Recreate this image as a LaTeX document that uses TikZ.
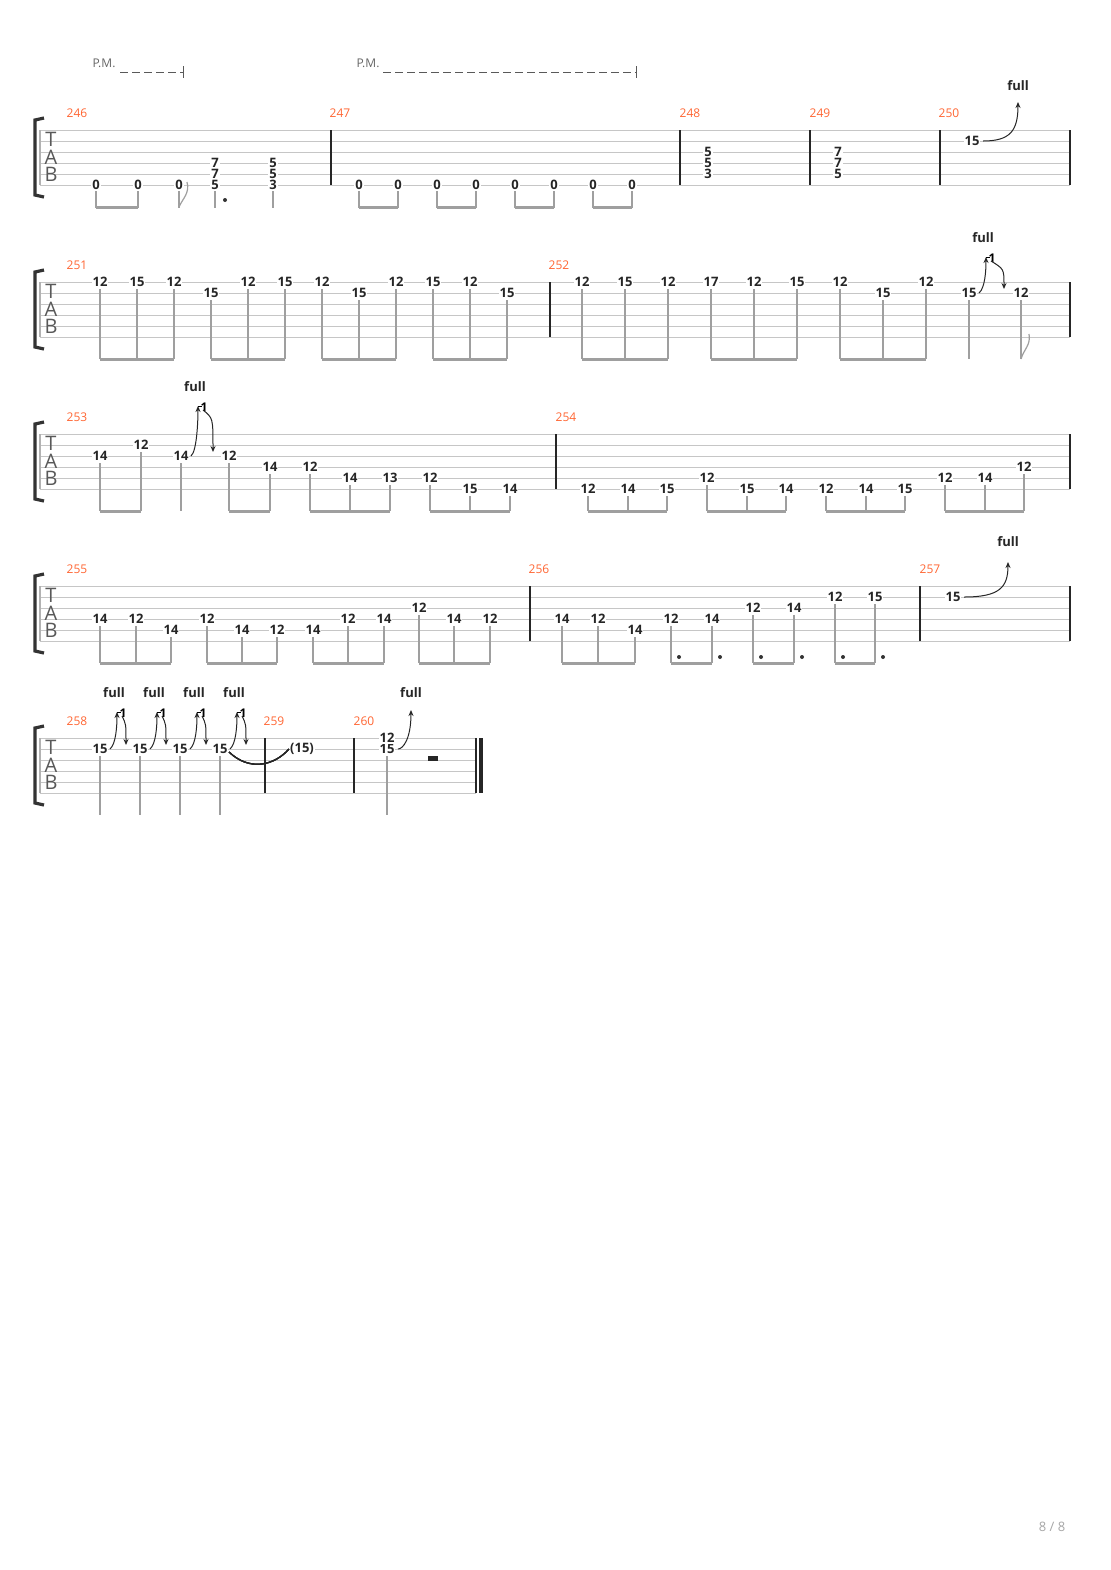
\documentclass[tikz,border=0pt]{standalone}
\usepackage{fontspec}
\setmainfont{Open Sans}
\usetikzlibrary{arrows.meta}

\definecolor{barnum}{HTML}{FF6633}
\tikzset{
  strg/.style={draw=gray!45, line width=0.5pt},
  bar/.style={draw=black!85, line width=0.6pt},
  fret/.style={fill=white, inner sep=0.4pt, font=\fontsize{6.5}{7}\selectfont\bfseries, text=black!85},
  stem/.style={draw=gray!75, line width=0.6pt},
  beam/.style={draw=gray!75, line width=1.5pt},
  mnum/.style={font=\fontsize{6}{7}\selectfont, text=barnum},
  full/.style={font=\fontsize{6.5}{7}\selectfont\bfseries, text=black!85},
  bendarr/.style={draw=black!85, line width=0.5pt, -{Stealth[length=3pt,width=2.5pt]}},
  pm/.style={font=\fontsize{6}{7}\selectfont, text=gray!80!black},
  tabl/.style={font=\fontsize{10}{10}\selectfont, text=gray!70!black}
}
\newcommand\tabsys[2]{%
  \foreach \k in {0,...,5} \draw[strg] (40,{#1+11*\k}) -- (#2,{#1+11*\k});
  \draw[line width=1.6pt, black!80] (44,#1-12) -- (35,#1-10) -- (35,#1+65) -- (44,#1+67);
  \draw[bar, gray!60] (40,#1) -- (40,#1+55);
  \node[tabl] at (51,#1+9) {T};
  \node[tabl] at (51,#1+27) {A};
  \node[tabl] at (51,#1+44) {B};}
\newcommand\bendup[5]{% x, y, peak x, peak y, label y
  \draw[bendarr] (#1+11,#2) .. controls (#3-8,#2) and (#3,#2-10) .. (#3,#4);
  \node[full] at (#3,#5) {full};}
\newcommand\bendrel[4]{% x, y, peak y, release x
  \draw[bendarr] (#1+10,#2) .. controls (#1+16,#2-5) and (#1+17,#3+14) .. (#1+17,#3);
  \draw[line width=0.5pt] (#1+17,#3) -- (#1+21,#3);
  \node[font=\fontsize{6}{6}\selectfont\bfseries, inner sep=0pt] at (#1+23,#3+1) {1};
  \draw[bendarr] (#1+22,#3+4) .. controls (#4,#3+12) .. (#4,#2-4);
  \node[full] at (#1+14,#3-19) {full};}

\begin{document}
\begin{tikzpicture}[x=0.5pt, y=-0.5pt]
  \useasboundingbox[fill=white] (0,0) rectangle (1110,1570);

  % system 1
  \def\Y{130}
  \tabsys{\Y}{1070}
  \foreach \x in {331,680,810,940,1070} \draw[bar] (\x,\Y) -- (\x,\Y+55);
  \foreach \x/\n in {77/246,340/247,690/248,820/249,949/250} \node[mnum] at (\x,\Y-17) {\n};
  \node[pm] at (104,63) {P.M.};
  \draw[gray!70!black, dash pattern=on 4pt off 2pt] (120,72) -- (183,72);
  \draw[gray!70!black] (183,66) -- (183,78);
  \node[pm] at (368,63) {P.M.};
  \draw[gray!70!black, dash pattern=on 4pt off 2pt] (383,72) -- (636,72);
  \draw[gray!70!black] (636,66) -- (636,78);
  \foreach \x/\s/\f in {96/6/0,138/6/0,179/6/0,215/4/7,215/5/7,215/6/5,273/4/5,273/5/5,273/6/3,
      359/6/0,398/6/0,437/6/0,476/6/0,515/6/0,554/6/0,593/6/0,632/6/0,
      708/3/5,708/4/5,708/5/3,838/3/7,838/4/7,838/5/5,972/2/15}
    \node[fret] at (\x,{\Y+11*(\s-1)}) {\f};
  \foreach \x in {96,138,179,215,273,359,398,437,476,515,554,593,632}
    \draw[stem] (\x,\Y+61) -- (\x,\Y+78);
  \foreach \a/\b in {96/138,359/398,437/476,515/554,593/632}
    \draw[beam] (\a,\Y+77) -- (\b,\Y+77);
  \draw[stem] (179,\Y+77) .. controls (183,\Y+68) and (190,\Y+63) .. (187,\Y+52);
  \fill[black!80] (225,\Y+70) circle (1pt);
  \bendup{972}{141}{1018}{102}{86}

  % system 2
  \def\Y{282}
  \tabsys{\Y}{1070}
  \foreach \x in {550,1070} \draw[bar] (\x,\Y) -- (\x,\Y+55);
  \foreach \x/\n in {77/251,559/252} \node[mnum] at (\x,\Y-17) {\n};
  \foreach \x/\s/\f in {100/1/12,137/1/15,174/1/12,211/2/15,248/1/12,285/1/15,322/1/12,359/2/15,
      396/1/12,433/1/15,470/1/12,507/2/15,582/1/12,625/1/15,668/1/12,711/1/17,754/1/12,
      797/1/15,840/1/12,883/2/15,926/1/12,969/2/15,1021/2/12} {
    \node[fret] at (\x,{\Y+11*(\s-1)}) {\f};
    \draw[stem] (\x,{\Y+11*(\s-1)+7}) -- (\x,\Y+77);}
  \foreach \a/\b in {100/174,211/285,322/396,433/507,582/668,711/797,840/926}
    \draw[beam] (\a,\Y+77) -- (\b,\Y+77);
  \draw[stem] (1021,\Y+77) .. controls (1024,\Y+67) and (1031,\Y+63) .. (1029,\Y+52);
  \bendrel{969}{293}{257}{1004}

  % system 3
  \def\Y{434}
  \tabsys{\Y}{1070}
  \foreach \x in {556,1070} \draw[bar] (\x,\Y) -- (\x,\Y+55);
  \foreach \x/\n in {77/253,566/254} \node[mnum] at (\x,\Y-17) {\n};
  \foreach \x/\s/\f in {100/3/14,141/2/12,181/3/14,229/3/12,270/4/14,310/4/12,350/5/14,390/5/13,
      430/5/12,470/6/15,510/6/14,588/6/12,628/6/14,667/6/15,707/5/12,747/6/15,786/6/14,
      826/6/12,866/6/14,905/6/15,945/5/12,985/5/14,1024/4/12} {
    \node[fret] at (\x,{\Y+11*(\s-1)}) {\f};
    \draw[stem] (\x,{\Y+11*(\s-1)+7}) -- (\x,\Y+77);}
  \foreach \a/\b in {100/141,229/270,310/390,430/510,588/667,707/786,826/905,945/1024}
    \draw[beam] (\a,\Y+77) -- (\b,\Y+77);
  \bendrel{181}{456}{406}{213}

  % system 4
  \def\Y{586}
  \tabsys{\Y}{1070}
  \foreach \x in {530,920,1070} \draw[bar] (\x,\Y) -- (\x,\Y+55);
  \foreach \x/\n in {77/255,539/256,930/257} \node[mnum] at (\x,\Y-17) {\n};
  \foreach \x/\s/\f in {100/4/14,136/4/12,171/5/14,207/4/12,242/5/14,277/5/12,313/5/14,348/4/12,
      384/4/14,419/3/12,454/4/14,490/4/12,562/4/14,598/4/12,635/5/14,671/4/12,712/4/14,
      753/3/12,794/3/14,835/2/12,875/2/15} {
    \node[fret] at (\x,{\Y+11*(\s-1)}) {\f};
    \draw[stem] (\x,{\Y+11*(\s-1)+7}) -- (\x,\Y+77);}
  \foreach \a/\b in {100/171,207/277,313/384,419/490,562/635,671/712,753/794,835/875}
    \draw[beam] (\a,\Y+77) -- (\b,\Y+77);
  \foreach \x in {679,720,761,802,843,883} \fill[black!80] (\x,\Y+71) circle (1pt);
  \node[fret] at (953,597) {15};
  \bendup{953}{597}{1008}{562}{542}

  % system 5
  \def\Y{738}
  \tabsys{\Y}{476}
  \foreach \x in {265,354} \draw[bar] (\x,\Y) -- (\x,\Y+55);
  \draw[bar] (476,\Y) -- (476,\Y+55);
  \draw[line width=1.6pt, black!85] (481,\Y) -- (481,\Y+55);
  \foreach \x/\n in {77/258,274/259,364/260} \node[mnum] at (\x,\Y-17) {\n};
  \foreach \x/\s/\f in {100/2/15,140/2/15,180/2/15,220/2/15,387/2/15} {
    \node[fret] at (\x,{\Y+11*(\s-1)}) {\f};
    \draw[stem] (\x,{\Y+11*(\s-1)+7}) -- (\x,\Y+77);}
  \node[fret] at (387,\Y) {12};
  \node[fret] (tieend) at (302,\Y+11) {(15)};
  \foreach \x in {100,140,180,220} \bendrel{\x}{749}{712}{\x+26}
  \draw[line width=0.6pt, black!85] (229,752) .. controls (250,772) and (275,765) .. (tieend.west);
  \bendup{387}{749}{411}{710}{693}
  \fill[black!85] (428,756) rectangle (438,761);

  \node[font=\fontsize{6.5}{7}\selectfont, text=gray!70] at (1052,1527) {8 / 8};
\end{tikzpicture}
\end{document}
